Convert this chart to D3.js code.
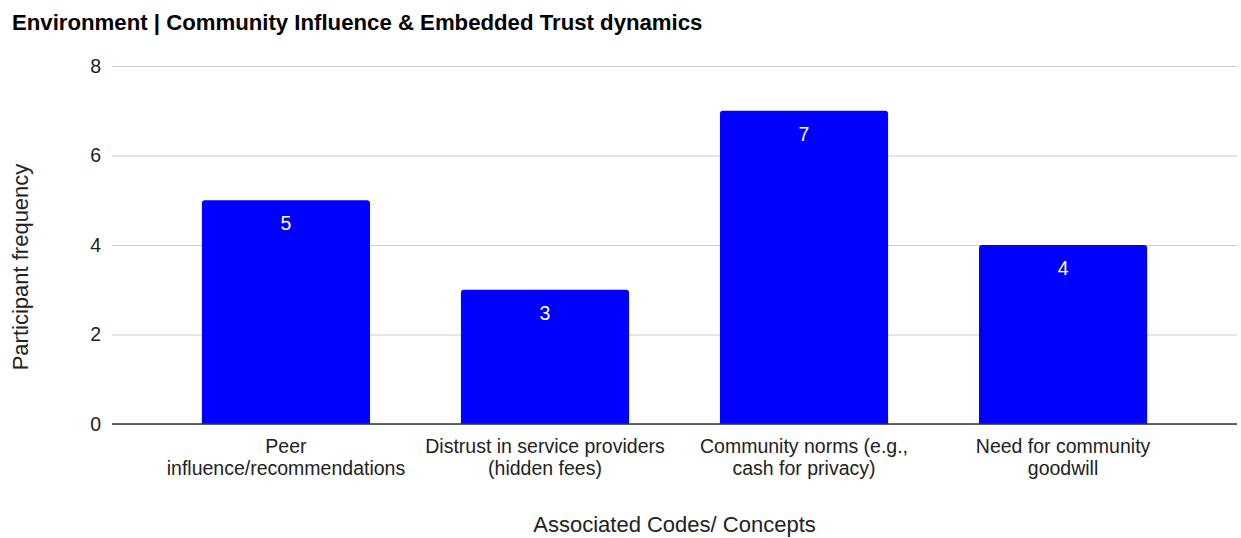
<!DOCTYPE html>
<html>
<head>
<meta charset="utf-8">
<script src="https://cdn.jsdelivr.net/npm/d3@7"></script>
<style>
  html, body { margin: 0; padding: 0; background: #fff; }
  svg { display: block; font-family: "Liberation Sans", Arial, sans-serif; }
</style>
</head>
<body>
<svg id="chart" width="1241" height="538"></svg>
<script>
// Chart data
const title = "Environment | Community Influence & Embedded Trust dynamics";
const categories = [
  ["Peer", "influence/recommendations"],
  ["Distrust in service providers", "(hidden fees)"],
  ["Community norms (e.g.,", "cash for privacy)"],
  ["Need for community", "goodwill"]
];
const values = [5, 3, 7, 4];
const yTicks = [0, 2, 4, 6, 8];
const xAxisTitle = "Associated Codes/ Concepts";
const yAxisTitle = "Participant frequency";

const svg = d3.select("#chart");
const plot = { left: 112, right: 1237, top: 66, bottom: 424 };

const x = d3.scaleBand()
  .domain(d3.range(values.length))
  .range([plot.left, plot.right])
  .paddingInner(0.351)
  .paddingOuter(0.347);

const y = d3.scaleLinear().domain([0, 8]).range([plot.bottom, plot.top]);

// Title
svg.append("text")
  .attr("x", 12).attr("y", 30)
  .attr("font-size", 22.2).attr("font-weight", "bold")
  .attr("fill", "#000")
  .text(title);

// Gridlines and y tick labels
const yAxis = d3.axisLeft(y).tickValues(yTicks).tickSize(-(plot.right - plot.left)).tickPadding(11);
const gy = svg.append("g").attr("transform", `translate(${plot.left},0)`).call(yAxis);
gy.select(".domain").remove();
gy.selectAll(".tick line").attr("stroke", "#cccccc").attr("stroke-width", 1);
gy.selectAll(".tick text")
  .attr("font-size", 19.5).attr("fill", "#222")
  .attr("font-family", "Liberation Sans, Arial, sans-serif");

// Bars with slightly rounded top corners
const r = 3;
svg.append("g").selectAll("path")
  .data(values)
  .join("path")
  .attr("fill", "#0000ff")
  .attr("d", (d, i) => {
    const x0 = x(i), w = x.bandwidth(), y0 = y(d), y1 = y(0);
    return `M${x0},${y1}V${y0 + r}Q${x0},${y0} ${x0 + r},${y0}H${x0 + w - r}Q${x0 + w},${y0} ${x0 + w},${y0 + r}V${y1}Z`;
  });

// Value labels inside bars
svg.append("g").selectAll("text")
  .data(values)
  .join("text")
  .attr("x", (d, i) => x(i) + x.bandwidth() / 2)
  .attr("y", d => y(d) + 30)
  .attr("text-anchor", "middle")
  .attr("font-size", 19.5)
  .attr("fill", "#ffffff")
  .text(d => d);

// Baseline
svg.append("line")
  .attr("x1", plot.left).attr("x2", plot.right)
  .attr("y1", y(0)).attr("y2", y(0))
  .attr("stroke", "#333").attr("stroke-width", 1.5);

// Category labels
const xl = svg.append("g").selectAll("text")
  .data(categories)
  .join("text")
  .attr("x", (d, i) => x(i) + x.bandwidth() / 2)
  .attr("y", 453)
  .attr("text-anchor", "middle")
  .attr("font-size", 19.5)
  .attr("fill", "#222");
xl.selectAll("tspan")
  .data(d => d)
  .join("tspan")
  .attr("x", function () { return d3.select(this.parentNode).attr("x"); })
  .attr("dy", (d, j) => j === 0 ? 0 : 22)
  .text(d => d);

// Axis titles
svg.append("text")
  .attr("x", (plot.left + plot.right) / 2).attr("y", 532)
  .attr("text-anchor", "middle")
  .attr("font-size", 22).attr("fill", "#222")
  .text(xAxisTitle);

svg.append("text")
  .attr("transform", `translate(28,267) rotate(-90)`)
  .attr("text-anchor", "middle")
  .attr("font-size", 22).attr("fill", "#222")
  .text(yAxisTitle);
</script>
</body>
</html>
